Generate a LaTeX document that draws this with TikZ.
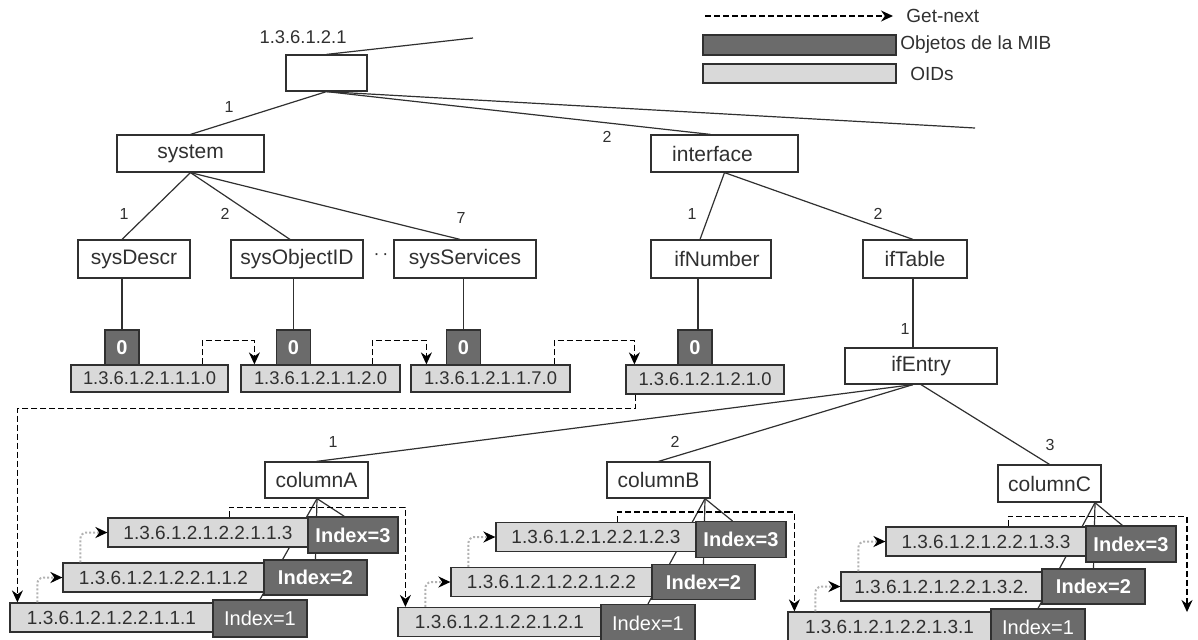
\documentclass[tikz,border=0pt]{standalone}
\usepackage{fontspec}
\setmainfont{Liberation Sans}
\usetikzlibrary{arrows.meta,calc,backgrounds}
\definecolor{darkbox}{HTML}{6B6B6B}
\definecolor{lightbox}{HTML}{D9D9D9}
\definecolor{edgec}{HTML}{303030}
\tikzset{
 tbox/.style={draw=edgec, line width=0.6pt, fill=white, inner sep=0pt, text=edgec, font=\fontsize{10.5}{12}\selectfont},
 zbox/.style={draw=edgec, line width=0.6pt, fill=darkbox, text=white, inner sep=0pt, font=\fontsize{10}{12}\selectfont\bfseries, minimum width=17pt, minimum height=17.5pt},
 obox/.style={draw=edgec, line width=0.6pt, fill=lightbox, inner sep=0pt, text=edgec, font=\fontsize{9.2}{11}\selectfont, minimum height=13.5pt},
 cobox/.style={obox, font=\fontsize{9.5}{11}\selectfont, minimum height=14.5pt},
 ibox/.style={draw=edgec, line width=0.6pt, fill=darkbox, text=white, inner sep=0pt, font=\fontsize{10}{12}\selectfont\bfseries},
 tree/.style={draw=edgec, line width=0.6pt},
 num/.style={font=\fontsize{8}{9}\selectfont, text=edgec, inner sep=0pt},
 legtext/.style={font=\fontsize{9.5}{11}\selectfont, text=edgec, inner sep=0pt, anchor=west},
 getnext/.style={draw=black, dash pattern=on 3pt off 1.5pt, line width=0.7pt, -{Stealth[length=6pt,width=5.5pt]}},
 dotnext/.style={draw=gray!60, dash pattern=on 1pt off 1pt, line width=1pt, rounded corners=3pt, -{Stealth[length=6pt,width=5.5pt,black]}},
}
% #1 prefix, #2 dx, #3 dy, #4 column digit, #5 header node, #6 suffix of row 2
\newcommand\mibcol[6]{%
 \node[cobox, minimum width=100pt] (#13) at (208+#2,532.5+#3) {1.3.6.1.2.1.2.2.1.#4.3};
 \node[ibox, minimum width=45pt, minimum height=18pt] (#1i3) at (353+#2,535+#3) {Index=3};
 \node[cobox, minimum width=100.5pt] (#12) at (163.5+#2,577.5+#3) {1.3.6.1.2.1.2.2.1.#4.2#6};
 \node[ibox, minimum width=51.5pt, minimum height=17.5pt] (#1i2) at (315.5+#2,577.5+#3) {Index=2};
 \node[cobox, minimum width=101.5pt] (#11) at (111.5+#2,617.5+#3) {1.3.6.1.2.1.2.2.1.#4.1};
 \node[ibox, minimum width=47pt, minimum height=18.5pt, font=\fontsize{10}{12}\selectfont] (#1i1) at (260+#2,618.5+#3) {Index=1};
 \coordinate (#1ax) at (317+#2,499+#3);
 \coordinate (#1apex) at (#1ax |- #5.south);
 \begin{scope}[on background layer]
  \draw[tree] (#1apex) -- (#1i1.north);
  \draw[tree] (#1apex) -- (#1i2.north);
  \draw[tree] (#1apex) -- ($(#1i3.north west)+(37,0)$);
 \end{scope}
 \draw[dotnext] ($(#11.north west)+(28,0)$) |- (#12.west);
 \draw[dotnext] ($(#12.north west)+(18,0)$) |- (#13.west);
}
\begin{document}
\begin{tikzpicture}[x=0.5pt,y=-0.5pt]
\useasboundingbox (0,0) rectangle (1198,639);
% legend
\coordinate (lg1) at (705,16);
\coordinate (lg2) at (893,16);
\draw[getnext] (lg1) -- (lg2);
\node[legtext] (lgt1) at (906,16) {Get-next};
\node[draw=edgec, line width=0.6pt, fill=darkbox, minimum width=96.5pt, minimum height=10pt, inner sep=0pt] (lgd) at (799.5,45) {};
\node[legtext] (lgt2) at (900,45) {Objetos de la MIB};
\node[draw=edgec, line width=0.6pt, fill=lightbox, minimum width=96.5pt, minimum height=9.5pt, inner sep=0pt] (lgl) at (799.5,73.5) {};
\node[legtext] (lgt3) at (910,74) {OIDs};

% tree nodes
\node[tbox, minimum width=40.5pt, minimum height=18pt] (root) at (326.5,73) {};
\node[inner sep=0pt, text=edgec, font=\fontsize{9.2}{11}\selectfont] (rootlbl) at (303,37) {1.3.6.1.2.1};
\node[tbox, minimum width=73.5pt, minimum height=18.5pt] (system) at (190.5,153.5) {system};
\node[tbox, minimum width=73.5pt, minimum height=18.5pt] (interface) at (724.5,153.5) {\hspace*{-12pt}interface};
\node[tbox, minimum width=56pt, minimum height=19pt] (sysDescr) at (134,259) {sysDescr};
\node[tbox, minimum width=66pt, minimum height=19pt] (sysObjectID) at (297,259) {sysObjectID};
\node[tbox, minimum width=71pt, minimum height=19pt] (sysServices) at (465,259) {sysServices};
\node[tbox, minimum width=60pt, minimum height=19pt] (ifNumber) at (711,259) {\hspace*{6pt}ifNumber};
\node[tbox, minimum width=52pt, minimum height=19pt] (ifTable) at (915,259) {ifTable};
\node[tbox, minimum width=76pt, minimum height=18pt] (ifEntry) at (921,366) {ifEntry};
\node[tbox, minimum width=51.5pt, minimum height=18pt] (columnA) at (316.5,480) {columnA};
\node[tbox, minimum width=51.5pt, minimum height=18pt] (columnB) at (658.5,480) {columnB};
\node[tbox, minimum width=51.5pt, minimum height=18.5pt] (columnC) at (1049.5,483.5) {columnC};
\node[inner sep=0pt, text=edgec, font=\fontsize{9}{10}\selectfont] (dots) at (381,257) {·\,·};

% leaf objects
\node[zbox] (z1) at (122,347.5) {0};
\node[zbox] (z2) at (293.5,347.5) {0};
\node[zbox] (z3) at (463.5,347.5) {0};
\node[zbox] (z4) at (695,347.5) {0};
\node[obox, minimum width=78.5pt] (o1) at (149.5,378.5) {1.3.6.1.2.1.1.1.0};
\node[obox, minimum width=79.5pt] (o2) at (320.5,378.5) {1.3.6.1.2.1.1.2.0};
\node[obox, minimum width=79.5pt] (o3) at (490.5,378.5) {1.3.6.1.2.1.1.7.0};
\node[obox, minimum width=79pt, minimum height=14.5pt] (o4) at (705,379.5) {1.3.6.1.2.1.2.1.0};

% tree edges
\coordinate (rtop) at (473,38);
\coordinate (rfar) at (975,128);
\draw[tree] (root.north) -- (rtop);
\draw[tree] (root.south) -- (system.north);
\draw[tree] (root.south) -- ([xshift=-7pt]interface.north);
\draw[tree] (root.south) -- (rfar);
\draw[tree] (system.south) -- (z1 |- sysDescr.north);
\draw[tree] (system.south) -- ([xshift=-3.5pt]sysObjectID.north);
\draw[tree] (system.south) -- ([xshift=-2.5pt]sysServices.north);
\draw[tree] (interface.south) -- ([xshift=-5.5pt]ifNumber.north);
\draw[tree] (interface.south) -- ([xshift=-1pt]ifTable.north);
\draw[tree] (z1 |- sysDescr.south) -- (z1.north);
\draw[tree] (z2 |- sysObjectID.south) -- (z2.north);
\draw[tree] (z3 |- sysServices.south) -- (z3.north);
\draw[tree] ([xshift=-6.5pt]ifNumber.south) -- ([xshift=-6.5pt]ifNumber.south |- z4.north);
\draw[tree] ([xshift=-1pt]ifTable.south) -- ([xshift=-1pt]ifTable.south |- ifEntry.north);
\draw[tree] ([xshift=-4pt]ifEntry.south) -- (columnA.north);
\draw[tree] ([xshift=-4pt]ifEntry.south) -- (columnB.north);
\draw[tree] (ifEntry.south) -- (columnC.north);

% edge numbers
\node[num] (n1) at (229,107) {1};
\node[num] (n2) at (607,137) {2};
\node[num] (n3) at (124,214) {1};
\node[num] (n4) at (225,214) {2};
\node[num] (n5) at (461,218) {7};
\node[num] (n6) at (692,214) {1};
\node[num] (n7) at (878,214) {2};
\node[num] (n8) at (905,329) {1};
\node[num] (n9) at (333,442) {1};
\node[num] (n10) at (675,442) {2};
\node[num] (n11) at (1050,445) {3};

% columns
\mibcol{A}{0}{0}{1}{columnA}{}
\mibcol{B}{388}{4.5}{2}{columnB}{}
\mibcol{C}{778}{9}{3}{columnC}{.}

% get-next arrows
\draw[getnext] ($(o1.north east)+(-26,0)$) -- ++(0,-24) -| ($(o2.north west)+(14,0)$);
\draw[getnext] ($(o2.north east)+(-28,0)$) -- ++(0,-24) -| ($(o3.north west)+(16,0)$);
\draw[getnext] ($(o3.north east)+(-16,0)$) -- ++(0,-24) -| ($(o4.north west)+(9,0)$);
\draw[getnext] ($(o4.south west)+(10,0)$) -- ++(0,14) -| ($(A1.north west)+(8,0)$);
\draw[getnext] ($(A3.north west)+(122,0)$) -- ++(0,-10) -| ($(B1.north west)+(8,0)$);
\draw[getnext] ($(B3.north west)+(122,0)$) -- ++(0,-10) -| ($(C1.north west)+(7,0)$);
\coordinate (cend) at (1187,612);
\draw[getnext] ($(C3.north west)+(123,0)$) -- ++(0,-10) -| (cend);
\end{tikzpicture}
\end{document}
